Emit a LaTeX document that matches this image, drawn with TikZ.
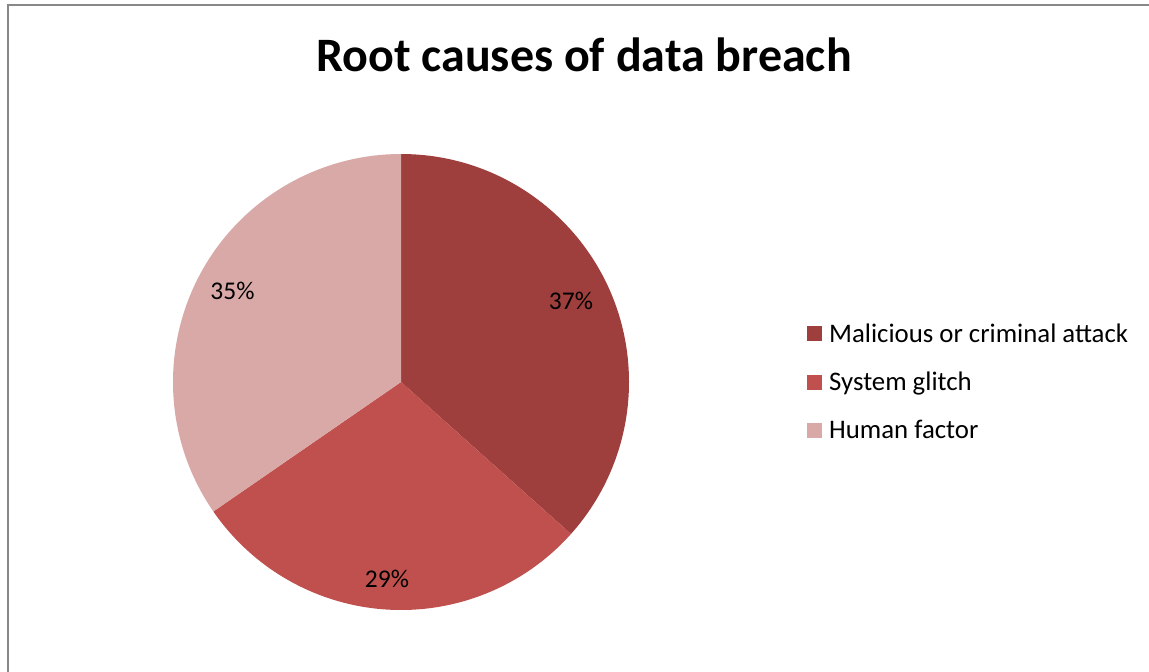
\documentclass[tikz,border=0pt]{standalone}
\usepackage{fontspec}
\setmainfont{Carlito}
\definecolor{malc}{HTML}{9E3F3D}
\definecolor{sysc}{HTML}{C0504D}
\definecolor{humc}{HTML}{D9A9A8}
\definecolor{framec}{HTML}{888888}
\begin{document}
\begin{tikzpicture}[x=1pt,y=-1pt,
  legendbox/.style={minimum size=15pt,inner sep=0pt,draw=none},
  legendtext/.style={anchor=base west,inner sep=0pt,font=\fontsize{26.8}{32}\selectfont},
  pctlabel/.style={anchor=base,inner sep=0pt,font=\fontsize{25.5}{30}\selectfont}]
\useasboundingbox (0,0) rectangle (1149,672);
\fill[white] (0,0) rectangle (1149,672);
% frame
\draw[framec,line width=1.5pt] (8,672) -- (8,5) -- (1149,5);
% title
\node[anchor=base,inner sep=0pt,font=\fontsize{48}{57}\bfseries\selectfont] (title) at (584,71) {Root causes of data breach};
% pie (y axis points down, so angles are mirrored)
\coordinate (c) at (401,382);
\fill[malc] (c) -- ++(-90:228) arc[start angle=-90,end angle=41.8,radius=228] -- cycle;
\fill[sysc] (c) -- ++(41.8:228) arc[start angle=41.8,end angle=145.4,radius=228] -- cycle;
\fill[humc] (c) -- ++(145.4:228) arc[start angle=145.4,end angle=270,radius=228] -- cycle;
% labels
\node[pctlabel] (l37) at (571,309) {37\%};
\node[pctlabel] (l29) at (387,587) {29\%};
\node[pctlabel] (l35) at (232.5,299) {35\%};
% legend
\node[legendbox,fill=malc] (k1) at (814.5,333.5) {};
\node[legendbox,fill=sysc] (k2) at (814.5,382.5) {};
\node[legendbox,fill=humc] (k3) at (814.5,430.5) {};
\node[legendtext] (t1) at (829,342) {Malicious or criminal attack};
\node[legendtext] (t2) at (829,390) {System glitch};
\node[legendtext] (t3) at (829,438) {Human factor};
\end{tikzpicture}
\end{document}
